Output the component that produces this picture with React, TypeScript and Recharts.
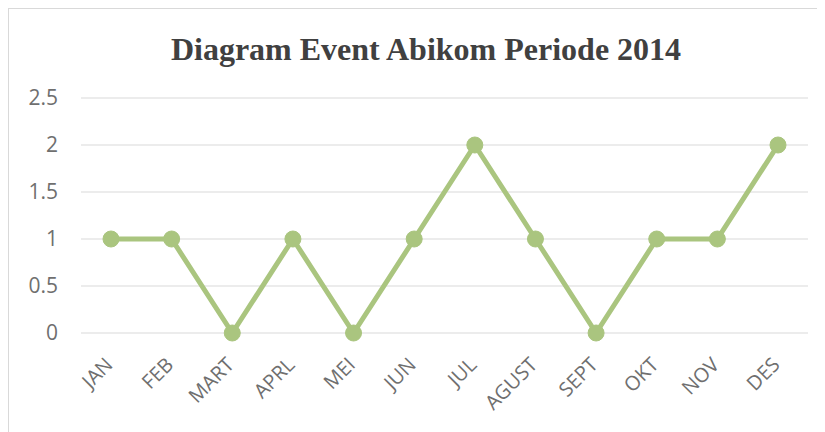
import { LineChart, Line, XAxis, YAxis, CartesianGrid } from 'recharts';

const months = ['JAN', 'FEB', 'MART', 'APRL', 'MEI', 'JUN', 'JUL', 'AGUST', 'SEPT', 'OKT', 'NOV', 'DES'];
const events = [1, 1, 0, 1, 0, 1, 2, 1, 0, 1, 1, 2];
const yTicks = [0, 0.5, 1, 1.5, 2, 2.5];

const chartData = months.map((m, i) => ({ month: m, events: events[i] }));

const tickFont = "'Open Sans', 'Liberation Sans', sans-serif";
const tickColor = '#6f6f6f';

// rotated month labels, Excel style
const MonthTick = (props: any) => {
  const { x, y, payload } = props;
  const ax = x + 3;
  const ay = y + 25;
  return (
    <text
      x={ax}
      y={ay}
      textAnchor="end"
      fill={tickColor}
      fontSize={20}
      fontFamily={tickFont}
      transform={`rotate(-45, ${ax}, ${ay})`}
    >
      {payload.value}
    </text>
  );
};

export default function App() {
  return (
    <div
      style={{
        position: 'relative',
        width: 820,
        height: 424,
        borderLeft: '1px solid #d9d9d9',
        borderTop: '1px solid #d9d9d9',
        background: '#ffffff',
        overflow: 'hidden',
      }}
    >
      <div
        style={{
          position: 'absolute',
          left: 0,
          top: 22,
          width: 834,
          textAlign: 'center',
          fontFamily: "'Liberation Serif', 'Times New Roman', serif",
          fontWeight: 'bold',
          fontSize: 32,
          color: '#404040',
          lineHeight: '36px',
        }}
      >
        Diagram Event Abikom Periode 2014
      </div>
      <LineChart
        width={820}
        height={423}
        data={chartData}
        margin={{ top: 89, right: 21, left: 0, bottom: 0 }}
      >
        <CartesianGrid stroke="#d9d9d9" vertical={false} />
        <XAxis
          dataKey="month"
          axisLine={false}
          tickLine={false}
          interval={0}
          height={99}
          padding={{ left: 30, right: 30 }}
          tick={<MonthTick />}
        />
        <YAxis
          domain={[0, 2.5]}
          ticks={yTicks}
          width={72}
          axisLine={false}
          tickLine={false}
          tickSize={0}
          tickMargin={23}
          tick={{ fill: tickColor, fontSize: 21, fontFamily: tickFont }}
        />
        <Line
          type="linear"
          dataKey="events"
          stroke="#aac57f"
          strokeWidth={5}
          dot={{ r: 8, fill: '#aac57f', stroke: '#aac57f', strokeWidth: 1 }}
          isAnimationActive={false}
        />
      </LineChart>
    </div>
  );
}
